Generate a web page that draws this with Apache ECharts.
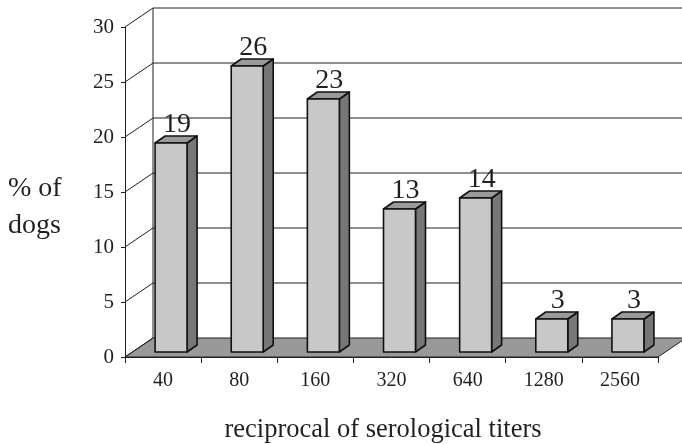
<!DOCTYPE html>
<html>
<head>
<meta charset="utf-8">
<script src="https://cdn.jsdelivr.net/npm/echarts@6/dist/echarts.min.js"></script>
<style>
html,body{margin:0;padding:0;background:#fff;}
#chart{width:682px;height:444px;}
</style>
</head>
<body>
<div id="chart"></div>
<script>
const categories = ['40', '80', '160', '320', '640', '1280', '2560'];
const percentDogs = [19, 26, 23, 13, 14, 3, 3];
const yMin = 0, yMax = 30, yStep = 5;
const xTitle = 'reciprocal of serological titers';
const yTitle = '% of\ndogs';

const FONT = '"Liberation Serif", "Times New Roman", serif';
const INK = '#231f20';
// 3D depth offsets (pixels)
const WALL_DX = 28, WALL_DY = -19;
const BAR_OX = 8, BAR_OY = -5;
const BAR_DX = 10, BAR_DY = -7;
const BAR_FRAC = 0.42;

const chart = echarts.init(document.getElementById('chart'), null, {renderer: 'canvas'});

const gridValues = [];
for (let v = yMin; v <= yMax; v += yStep) gridValues.push(v);

function renderBackground(params, api) {
  const cs = params.coordSys;
  const left = cs.x, right = cs.x + cs.width;
  const children = [];
  const y0 = api.coord([0, yMin])[1];
  const yTop = api.coord([0, yMax])[1];
  children.push({
    type: 'polygon',
    shape: {points: [[left, y0], [right, y0], [right + WALL_DX, y0 + WALL_DY], [left + WALL_DX, y0 + WALL_DY]]},
    style: {fill: '#999999', stroke: INK, lineWidth: 1}
  });
  children.push({
    type: 'line',
    shape: {x1: left + WALL_DX, y1: yTop + WALL_DY, x2: left + WALL_DX, y2: y0 + WALL_DY},
    style: {stroke: INK, lineWidth: 1}
  });
  gridValues.forEach(function (v) {
    const y = api.coord([0, v])[1];
    if (v !== yMin) {
      children.push({
        type: 'line',
        shape: {x1: left + WALL_DX, y1: y + WALL_DY, x2: right + WALL_DX + 10, y2: y + WALL_DY},
        style: {stroke: INK, lineWidth: 1}
      });
    }
    children.push({
      type: 'line',
      shape: {x1: left, y1: y, x2: left + WALL_DX, y2: y + WALL_DY},
      style: {stroke: INK, lineWidth: 1}
    });
  });
  return {type: 'group', children: children};
}

function renderBar(params, api) {
  const idx = api.value(0);
  const val = api.value(1);
  const base = api.coord([idx, yMin]);
  const yv = api.coord([idx, val])[1];
  const cw = api.size([1, 0])[0];
  const bw = cw * BAR_FRAC;
  const l = base[0] - bw / 2 + BAR_OX;
  const r = l + bw;
  const t = yv + BAR_OY;
  const b = base[1] + BAR_OY;
  const edge = {stroke: '#111', lineWidth: 1.6, lineJoin: 'round'};
  return {
    type: 'group',
    children: [
      {type: 'polygon', shape: {points: [[r, t], [r + BAR_DX, t + BAR_DY], [r + BAR_DX, b + BAR_DY], [r, b]]},
        style: Object.assign({fill: '#777777'}, edge)},
      {type: 'polygon', shape: {points: [[l, t], [r, t], [r + BAR_DX, t + BAR_DY], [l + BAR_DX, t + BAR_DY]]},
        style: Object.assign({fill: '#9a9a9a'}, edge)},
      {type: 'rect', shape: {x: l, y: t, width: bw, height: b - t},
        style: Object.assign({fill: '#c8c8c8'}, edge)},
      {type: 'text', x: (l + r) / 2 + BAR_DX / 2 + 1, y: t + BAR_DY + 3,
        style: {text: String(val), fill: INK, font: '28px ' + FONT, textAlign: 'center', textVerticalAlign: 'bottom'}}
    ]
  };
}

chart.setOption({
  animation: false,
  backgroundColor: '#ffffff',
  grid: {left: 125, right: 24, top: 27, bottom: 87, containLabel: false},
  xAxis: {
    type: 'category',
    data: categories,
    axisLine: {show: true, lineStyle: {color: INK, width: 1}},
    axisTick: {show: true, length: 6, lineStyle: {color: INK}},
    axisLabel: {fontFamily: FONT, fontSize: 20, color: INK, margin: 14},
    splitLine: {show: false}
  },
  yAxis: {
    type: 'value',
    min: yMin, max: yMax, interval: yStep,
    axisLine: {show: true, lineStyle: {color: INK, width: 1}},
    axisTick: {show: true, length: 4, lineStyle: {color: INK}},
    axisLabel: {fontFamily: FONT, fontSize: 21, color: INK, margin: 11},
    splitLine: {show: false}
  },
  graphic: [
    {type: 'text', left: 8, top: 170, style: {text: yTitle, font: '28px ' + FONT, fill: INK, lineHeight: 37}},
    {type: 'text', x: 383, y: 430, style: {text: xTitle, font: '26.5px ' + FONT, fill: INK, textAlign: 'center', textVerticalAlign: 'middle'}}
  ],
  series: [
    {type: 'custom', renderItem: renderBackground, data: [[0, 0]], clip: false, z: 1, silent: true},
    {type: 'custom', renderItem: renderBar, data: percentDogs.map(function (v, i) { return [i, v]; }),
      encode: {x: 0, y: 1}, clip: false, z: 3, silent: true}
  ]
});
</script>
</body>
</html>
